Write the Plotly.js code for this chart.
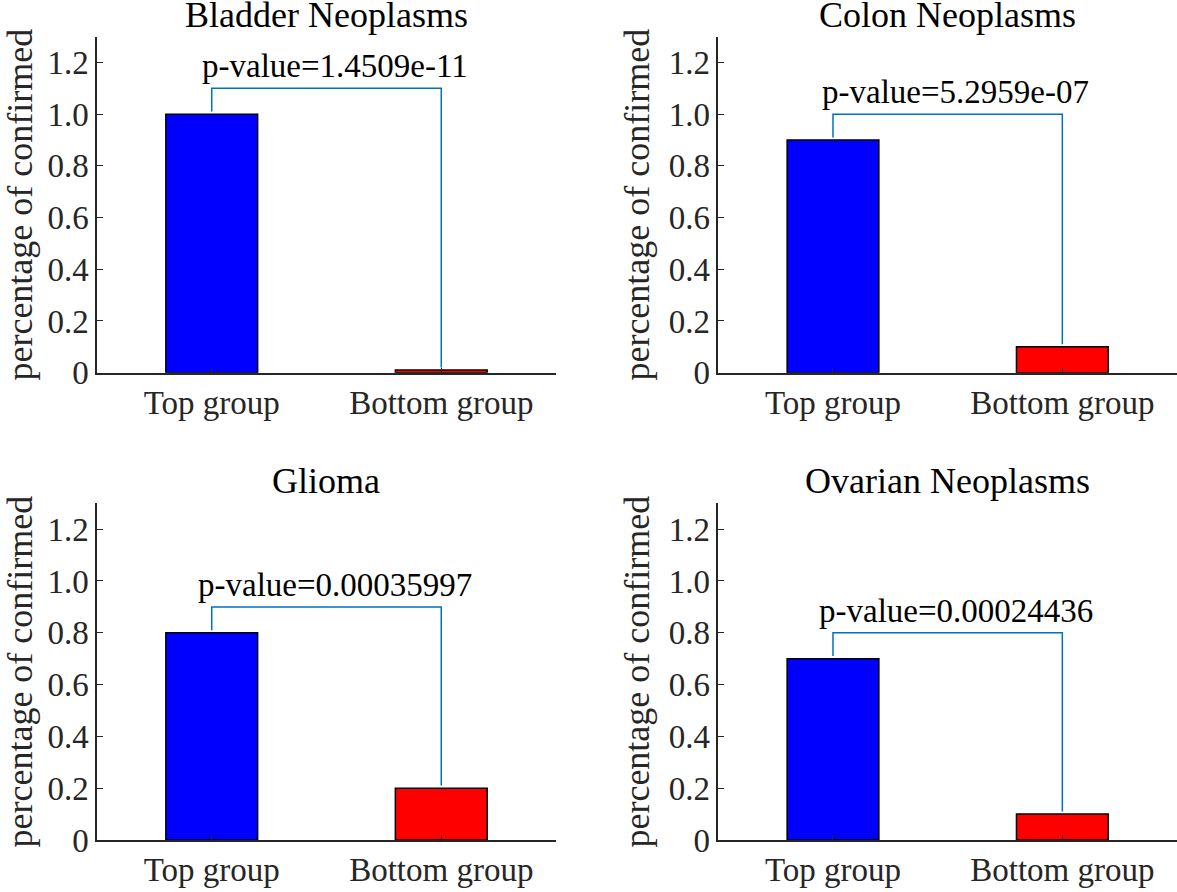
<!DOCTYPE html>
<html><head><meta charset="utf-8">
<script src="https://cdn.plot.ly/plotly-3.0.1.min.js"></script>
<style>html,body{margin:0;padding:0;background:#fff;font-family:'Liberation Serif',serif}#chart{width:1177px;height:892px}</style>
</head><body><div id="chart"></div>
<script>
const groups = ["Top group", "Bottom group"];
const diseases = ["Bladder Neoplasms", "Colon Neoplasms", "Glioma", "Ovarian Neoplasms"];
const topGroupValues = [1.0, 0.9, 0.8, 0.7];
const bottomGroupValues = [0.01, 0.1, 0.2, 0.1];
const pValueLabels = ["p-value=1.4509e-11", "p-value=5.2959e-07", "p-value=0.00035997", "p-value=0.00024436"];
const yTickValues = [0, 0.2, 0.4, 0.6, 0.8, 1.0, 1.2];
const yTickLabels = ["0", "0.2", "0.4", "0.6", "0.8", "1.0", "1.2"];
const yLabel = "percentage of confirmed";

const FONT = "Liberation Serif";
const AXC = "#262626";
const xDomains = [[0.0824, 0.4724], [0.6103, 1.0], [0.0824, 0.4724], [0.6103, 1.0]];
const yDomains = [[0.5822, 0.9589], [0.5822, 0.9589], [0.0583, 0.4358], [0.0583, 0.4358]];

const data = [];
const annotations = [];
const layout = {
  width: 1177, height: 892,
  margin: {l: 0, r: 0, t: 0, b: 0},
  paper_bgcolor: "#fff", plot_bgcolor: "#fff",
  showlegend: false,
  font: {family: FONT, size: 33, color: AXC}
};

diseases.forEach((name, i) => {
  const n = i === 0 ? "" : String(i + 1);
  const xa = "x" + n, ya = "y" + n;
  const vals = [topGroupValues[i], bottomGroupValues[i]];
  const peak = Math.max(...vals);
  data.push({
    type: "bar", x: groups, y: vals, xaxis: xa, yaxis: ya, width: 0.4,
    marker: {color: ["#0000FF", "#FF0000"], line: {color: "#000", width: 1.5}},
    hoverinfo: "skip"
  });
  data.push({
    type: "scatter", mode: "lines", xaxis: xa, yaxis: ya,
    x: [groups[0], groups[0], groups[1], groups[1]],
    y: [vals[0] + 0.01, peak + 0.1, peak + 0.1, vals[1] + 0.01],
    line: {color: "#0072BD", width: 1.5}, hoverinfo: "skip"
  });
  layout["xaxis" + n] = {
    domain: xDomains[i], anchor: ya, type: "category",
    range: [-0.5, 1.5], showline: true, linecolor: AXC, linewidth: 1.5,
    ticks: "inside", ticklen: 5, tickcolor: AXC, tickwidth: 1,
    tickfont: {family: FONT, size: 33, color: AXC},
    showgrid: false, zeroline: false, fixedrange: true
  };
  layout["yaxis" + n] = {
    domain: yDomains[i], anchor: xa, range: [0, 1.3],
    tickvals: yTickValues, ticktext: yTickLabels,
    showline: true, linecolor: AXC, linewidth: 1.5,
    ticks: "inside", ticklen: 6, tickcolor: AXC, tickwidth: 1,
    tickfont: {family: FONT, size: 33, color: AXC},
    showgrid: false, zeroline: false, fixedrange: true,
    title: {text: yLabel, font: {family: FONT, size: 36, color: AXC}, standoff: 8}
  };
  annotations.push({
    text: name, xref: "x" + n + " domain", yref: "y" + n + " domain",
    x: 0.5, y: 1, xanchor: "center", yanchor: "bottom", yshift: 0,
    showarrow: false, font: {family: FONT, size: 36, color: "#000"}
  });
  annotations.push({
    text: pValueLabels[i], xref: xa, yref: ya,
    x: 0.5, y: peak + 0.1, xanchor: "center", yanchor: "bottom", xshift: 8, yshift: 2,
    showarrow: false, font: {family: FONT, size: 33, color: "#000"}
  });
});
layout.annotations = annotations;

Plotly.newPlot("chart", data, layout, {displayModeBar: false});
</script></body></html>
